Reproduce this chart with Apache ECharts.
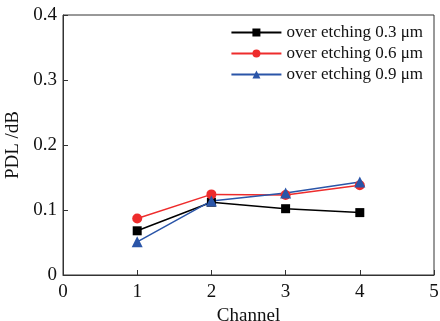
<!DOCTYPE html>
<html><head><meta charset="utf-8">
<script src="https://cdn.jsdelivr.net/npm/echarts@6/dist/echarts.min.js"></script>
<style>html,body{margin:0;padding:0;background:#fff}#c{width:440px;height:321px}</style>
</head><body><div id="c"></div>
<script>
const channels = [1, 2, 3, 4];
const etch03 = [0.068, 0.112, 0.102, 0.096];
const etch06 = [0.087, 0.124, 0.123, 0.138];
const etch09 = [0.051, 0.114, 0.126, 0.143];
const seriesNames = ['over etching 0.3 \u03bcm', 'over etching 0.6 \u03bcm', 'over etching 0.9 \u03bcm'];
const F = 'Liberation Serif, DejaVu Serif, serif';
const chart = echarts.init(document.getElementById('c'));
function mk(name, vals, color, sym, size) {
  return {name, type: 'line', data: channels.map((c, i) => [c, vals[i]]),
    symbol: sym, symbolSize: size, showSymbol: true,
    lineStyle: {color, width: 1.5}, itemStyle: {color}};
}
chart.setOption({
  animation: false,
  grid: {left: 63, right: 6, top: 15, bottom: 46, show: true, borderColor: '#333', borderWidth: 1,
    containLabel: false, outerBoundsMode: 'none'},
  legend: {right: 12, top: 19, orient: 'vertical', itemWidth: 50, itemHeight: 10, itemGap: 4,
    textStyle: {fontFamily: F, fontSize: 17, color: '#111'}, data: seriesNames},
  xAxis: {type: 'value', min: 0, max: 5, interval: 1, name: 'Channel', nameLocation: 'middle', nameGap: 27,
    nameTextStyle: {fontFamily: F, fontSize: 19, color: '#111'},
    axisLine: {lineStyle: {color: '#333'}}, axisTick: {inside: true, length: 5, lineStyle: {color: '#333'}},
    axisLabel: {fontFamily: F, fontSize: 19, color: '#111', margin: 8}, splitLine: {show: false}},
  yAxis: {type: 'value', min: 0, max: 0.4, interval: 0.1, name: 'PDL /dB', nameLocation: 'middle', nameGap: 40,
    nameTextStyle: {fontFamily: F, fontSize: 19, color: '#111'},
    axisLine: {show: true, lineStyle: {color: '#333'}}, axisTick: {show: true, inside: true, length: 5, lineStyle: {color: '#333'}},
    axisLabel: {fontFamily: F, fontSize: 19, color: '#111', margin: 6, formatter: v => v === 0 ? '0' : v.toFixed(1)},
    splitLine: {show: false}},
  series: [
    mk(seriesNames[0], etch03, '#000000', 'rect', 9),
    mk(seriesNames[1], etch06, '#ee2c2c', 'circle', 10),
    mk(seriesNames[2], etch09, '#2a55a8', 'triangle', 11)
  ]
});
</script></body></html>
